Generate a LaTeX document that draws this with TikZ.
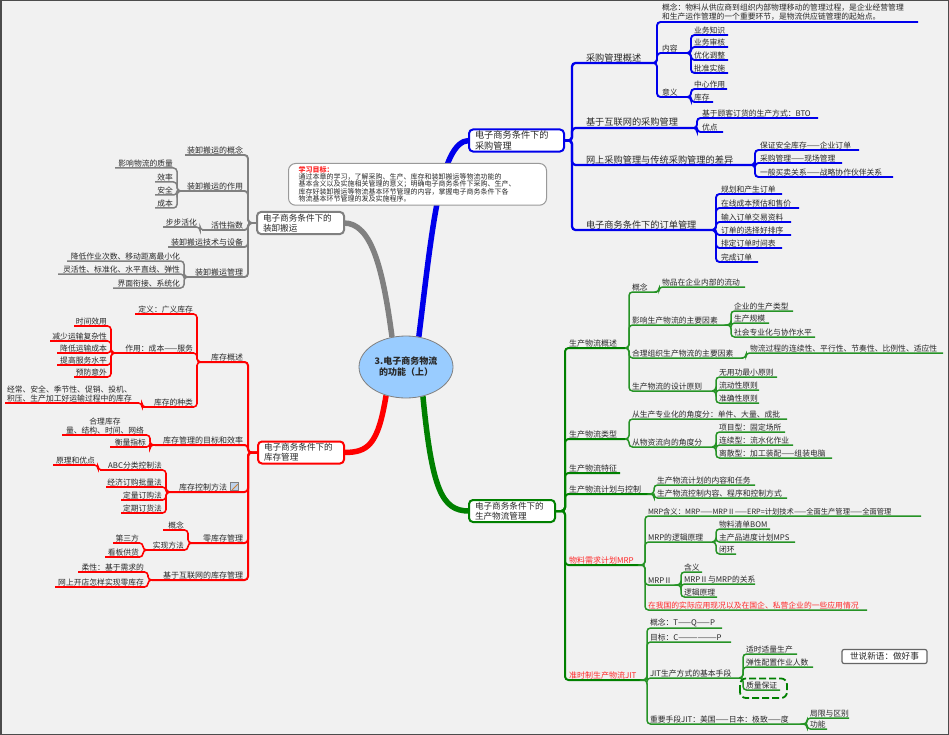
\documentclass[tikz,border=0pt]{standalone}
\usepackage{fontspec}
\setmainfont{Noto Sans CJK SC}
\usetikzlibrary{shapes.geometric}
\pgfdeclarelayer{bg}
\pgfsetlayers{bg,main}
\definecolor{blu}{RGB}{0,0,235}
\definecolor{grn}{RGB}{0,128,0}
\definecolor{rd}{RGB}{255,0,0}
\definecolor{gry}{RGB}{128,128,128}
\definecolor{txt}{RGB}{40,40,40}
\definecolor{bgc}{RGB}{241,241,241}
\definecolor{ell}{RGB}{153,204,255}
\definecolor{rtxt}{RGB}{255,40,40}
\newcommand\Rn[6][]{\node[lf,#1,anchor=south west] (#2) at (#3,#5) {\makebox[\dimexpr #4pt-#3pt-4pt\relax][l]{#6}};}
\newcommand\Ln[6][]{\node[lf,#1,anchor=south east] (#2) at (#4,#5) {\makebox[\dimexpr #4pt-#3pt-4pt\relax][r]{#6}};}
\begin{document}
\begin{tikzpicture}[x=1pt,y=-1pt,
  lf/.style={inner xsep=2pt, inner ysep=1.2pt, outer sep=0pt, text=txt, font=\fontsize{7.8}{9}\selectfont},
  l2/.style={font=\fontsize{8}{9}\selectfont},
  l2b/.style={font=\fontsize{9.2}{10}\selectfont},
  rt/.style={text=rtxt},
  box/.style={fill=white, line width=2pt, rounded corners=4pt, align=left, inner xsep=6pt, inner ysep=1.5pt, outer sep=0pt, minimum height=22pt, text=txt, font=\fontsize{8.6}{10}\selectfont},
  mainbr/.style={line width=5.5pt},
  cb/.style={draw=blu, line width=2.3pt, rounded corners=3.5pt},
  cb3/.style={draw=blu, line width=1.9pt, rounded corners=3.5pt},
  cg/.style={draw=grn, line width=2pt, rounded corners=3.5pt},
  cg3/.style={draw=grn!85!white, line width=1.5pt, rounded corners=3.5pt},
  cr/.style={draw=rd, line width=2pt, rounded corners=3.5pt},
  cr3/.style={draw=rd, line width=1.6pt, rounded corners=3.5pt},
  cy/.style={draw=gry, line width=1.9pt, rounded corners=3.5pt},
  cy3/.style={draw=gry, line width=1.5pt, rounded corners=3.5pt},
  goal/.style={draw=gray!80, fill=white, line width=1pt, rounded corners=7pt, text width=238pt, inner xsep=10pt, inner ysep=3pt, align=left, font=\fontsize{7}{7}\selectfont, text=txt},
  qbox/.style={draw=grn, line width=1.8pt, dash pattern=on 7pt off 3pt, rounded corners=6pt}
]
\useasboundingbox (0,0) rectangle (949,735);

% central and boxes
\node[ellipse, draw=gray, line width=0.8pt, fill=ell, minimum width=94pt, minimum height=62pt, inner sep=0pt, align=center, font=\fontsize{9}{11}\selectfont\bfseries, text=txt] (C) at (406,367) {3.电子商务物流\\的功能（上）};
\node[box, draw=blu, text width=83pt, font=\fontsize{9.2}{10.5}\selectfont] (bB) at (516.5,140.5) {电子商务条件下的\\采购管理};
\node[box, draw=gry, text width=75pt] (gB) at (300.5,223) {电子商务条件下的\\装卸搬运};
\node[box, draw=rd, text width=74pt] (rB) at (301,452.5) {电子商务条件下的\\库存管理};
\node[box, draw=grn, text width=74pt] (gnB) at (512,511) {电子商务条件下的\\生产物流管理};

\begin{pgfonlayer}{bg}
\fill[bgc] (0,0) rectangle (949,735);
\draw[mainbr, blu] (C.67) .. controls (432,230) and (440,141) .. (bB.west);
\draw[mainbr, gry] (C.115) .. controls (383,270) and (372,223) .. (gB.east);
\draw[mainbr, rd] (C.235) .. controls (378,445) and (368,452.5) .. (rB.east);
\draw[mainbr, grn] (C.300) .. controls (432,490) and (442,511) .. (gnB.west);
\end{pgfonlayer}

\node[goal, anchor=north west] (goal) at (288,163) {{\color{rtxt}\bfseries 学习目标：}\\通过本章的学习，了解采购、生产、库存和装卸搬运等物流功能的\\基本含义以及实施相关管理的意义；明确电子商务条件下采购、生产、\\库存好装卸搬运等物流基本环节管理的内容，掌握电子商务条件下各\\物流基本环节管理的发及实施程序。};

\node[draw=gray!80!black, fill=white, line width=1.2pt, rounded corners=2pt, minimum width=85pt, minimum height=14pt, inner sep=1pt, font=\fontsize{8.6}{9}\selectfont, text=txt] (ss) at (884.5,656.5) {世说新语：做好事};

% ---------- blue ----------
\Rn[l2b]{b1}{584}{653}{63}{采购管理概述}
\Rn[l2b]{b2}{584}{693}{128}{基于互联网的采购管理}
\Rn[l2b]{b3}{584}{751}{165}{网上采购管理与传统采购管理的差异}
\Rn[l2b]{b4}{584}{712}{230}{电子商务条件下的订单管理}
\node[lf, anchor=south west, text width=254pt, align=left, font=\fontsize{7.8}{9.5}\selectfont] (b11) at (660,22) {概念：物料从供应商到组织内部物理移动的管理过程，是企业经营管理\\和生产运作管理的一个重要环节，是物流供应链管理的起始点。};
\Rn{b12}{660}{688}{53}{内容}
\Rn{b13}{660}{688}{97}{意义}
\Rn{b121}{692}{728}{35}{业务知识}
\Rn{b122}{692}{728}{47}{业务审核}
\Rn{b123}{692}{728}{60}{优化调整}
\Rn{b124}{692}{728}{73}{批准实施}
\Rn{b131}{692}{727}{89}{中心作用}
\Rn{b132}{692}{713}{102}{库存}
\Rn{b21}{700}{818}{118}{基于顾客订货的生产方式：BTO}
\Rn{b22}{700}{723}{132}{优点}
\Rn{b31}{758}{859}{150}{保证安全库存——企业订单}
\Rn{b32}{758}{842}{163}{采购管理——现场管理}
\Rn{b33}{758}{893}{177}{一般买卖关系——战略协作伙伴关系}
\Rn{b41}{719}{782}{194}{规划和产生订单}
\Rn{b42}{719}{799}{208}{在线成本预估和售价}
\Rn{b43}{719}{791}{222}{输入订单交易资料}
\Rn{b44}{719}{791}{235}{订单的选择好排序}
\Rn{b45}{719}{782}{248}{排定订单时间表}
\Rn{b46}{719}{758}{262}{完成订单}

\foreach \q in {b1,b2,b3,b4} \draw[cb] (bB.east) -- ++(8,0) |- (\q.south east);
\foreach \q in {b11,b12,b13} \draw[cb3] (b1.south east) -- ++(4,0) |- (\q.south east);
\foreach \q in {b121,b122,b123,b124} \draw[cb3] (b12.south east) -- ++(3,0) |- (\q.south east);
\foreach \q in {b131,b132} \draw[cb3] (b13.south east) -- ++(3,0) |- (\q.south east);
\foreach \q in {b21,b22} \draw[cb3] (b2.south east) -- ++(4,0) |- (\q.south east);
\foreach \q in {b31,b32,b33} \draw[cb3] (b3.south east) -- ++(4,0) |- (\q.south east);
\foreach \q in {b41,b42,b43,b44,b45,b46} \draw[cb3] (b4.south east) -- ++(4,0) |- (\q.south east);

% ---------- green ----------
\Rn[l2]{g1}{567}{625}{348}{生产物流概述}
\Rn[l2]{g2}{567}{625}{439}{生产物流类型}
\Rn[l2]{g3}{567}{620}{473}{生产物流特征}
\Rn[l2]{g4}{567}{651}{494}{生产物流计划与控制}
\Rn[l2,rt]{g5}{567}{642}{565}{物料需求计划MRP}
\Rn[l2,rt]{g6}{567}{644}{680}{准时制生产物流JIT}
\Rn{g11}{630}{657}{292}{概念}
\Rn{g111}{660}{745}{287}{物品在企业内部的流动}
\Rn{g12}{630}{728}{325}{影响生产物流的主要因素}
\Rn{g121}{732}{793}{311}{企业的生产类型}
\Rn{g122}{732}{769}{323}{生产规模}
\Rn{g123}{732}{815}{337}{社会专业化与协作水平}
\Rn{g13}{630}{743}{358}{合理组织生产物流的主要因素}
\Rn{g131}{748}{943}{353}{物流过程的连续性、平行性、节奏性、比例性、适应性}
\Rn{g14}{630}{712}{391}{生产物流的设计原则}
\Rn{g141}{717}{777}{377}{无用功最小原则}
\Rn{g142}{717}{759}{390}{流动性原则}
\Rn{g143}{717}{759}{403}{准确性原则}
\Rn{g21}{630}{787}{419}{从生产专业化的角度分：单件、大量、成批}
\Rn{g22}{630}{712}{447}{从物资流向的角度分}
\Rn{g221}{717}{785}{432}{项目型：固定场所}
\Rn{g222}{717}{793}{445}{连续型：流水化作业}
\Rn{g223}{717}{832}{458}{离散型：加工装配——组装电脑}
\Rn{g41}{655}{755}{485}{生产物流计划的内容和任务}
\Rn{g42}{655}{787}{498}{生产物流控制内容、程序和控制方式}
\Rn[font=\fontsize{7.3}{9}\selectfont]{g51}{646}{921}{516}{MRP含义：MRP——MRPⅡ——ERP=计划技术——全面生产管理——全面管理}
\Rn{g52}{646}{712}{542}{MRP的逻辑原理}
\Rn{g521}{717}{770}{529}{物料清单BOM}
\Rn{g522}{717}{795}{542}{主产品进度计划MPS}
\Rn{g523}{717}{736}{554}{闭环}
\Rn{g53}{646}{678}{585}{MRPⅡ}
\Rn{g531}{682}{702}{572}{含义}
\Rn{g532}{682}{755}{584}{MRPⅡ与MRP的关系}
\Rn{g533}{682}{717}{597}{逻辑原理}
\Rn[rt]{g54}{646}{867}{610}{在我国的实际应用现况以及在国企、私营企业的一些应用情况}
\Rn{g61}{648}{722}{628}{概念：T——Q——P}
\Rn{g62}{648}{731}{642}{目标：C——————P}
\Rn{g63}{648}{739}{678}{JIT生产方式的基本手段}
\Rn{g631}{744}{797}{654}{适时适量生产}
\Rn{g632}{744}{813}{667}{弹性配置作业人数}
\Rn{g633}{744}{780}{690}{质量保证}
\Rn{g64}{648}{804}{724}{重要手段JIT：美国——日本：极致——度}
\Rn{g641}{808}{849}{718}{局限与区别}
\Rn{g642}{808}{827}{729}{功能}

\foreach \q in {g1,g2,g3,g4,g5,g6} \draw[cg] (gnB.east) -- ++(10,0) |- (\q.south east);
\foreach \q in {g11,g12,g13,g14} \draw[cg3] (g1.south east) -- ++(4,0) |- (\q.south east);
\draw[cg3] (g11.south east) -- ++(2,0) |- (g111.south east);
\foreach \q in {g121,g122,g123} \draw[cg3] (g12.south east) -- ++(3,0) |- (\q.south east);
\draw[cg3] (g13.south east) -- ++(3,0) |- (g131.south east);
\foreach \q in {g141,g142,g143} \draw[cg3] (g14.south east) -- ++(4,0) |- (\q.south east);
\foreach \q in {g21,g22} \draw[cg3] (g2.south east) -- ++(4,0) |- (\q.south east);
\foreach \q in {g221,g222,g223} \draw[cg3] (g22.south east) -- ++(4,0) |- (\q.south east);
\foreach \q in {g41,g42} \draw[cg3] (g4.south east) -- ++(3,0) |- (\q.south east);
\foreach \q in {g51,g52,g53,g54} \draw[cg3] (g5.south east) -- ++(3,0) |- (\q.south east);
\foreach \q in {g521,g522,g523} \draw[cg3] (g52.south east) -- ++(4,0) |- (\q.south east);
\foreach \q in {g531,g532,g533} \draw[cg3] (g53.south east) -- ++(3,0) |- (\q.south east);
\foreach \q in {g61,g62,g63,g64} \draw[cg3] (g6.south east) -- ++(3,0) |- (\q.south east);
\foreach \q in {g631,g632,g633} \draw[cg3] (g63.south east) -- ++(4,0) |- (\q.south east);
\foreach \q in {g641,g642} \draw[cg3] (g64.south east) -- ++(3,0) |- (\q.south east);
\draw[qbox] ([shift={(-4,8)}]g633.south west) rectangle ([shift={(7,-2)}]g633.north east);

% ---------- gray ----------
\Ln[l2]{y1}{185}{245}{155}{装卸搬运的概念}
\Ln[l2]{y2}{180}{245}{191}{装卸搬运的作用}
\Ln{y21}{115}{175}{168}{影响物流的质量}
\Ln{y22}{155}{175}{182}{效率}
\Ln{y23}{155}{175}{195}{安全}
\Ln{y24}{155}{175}{208}{成本}
\Ln[l2]{y3}{202}{245}{230}{活性指数}
\Ln{y31}{163}{199}{227}{步步活化}
\Ln[l2]{y4}{168}{245}{247}{装卸搬运技术与设备}
\Ln[l2]{y5}{187}{245}{277}{装卸搬运管理}
\Ln{y51}{67}{182}{261}{降低作业次数、移动距离最小化}
\Ln{y52}{58}{182}{274}{灵活性、标准化、水平直线、弹性}
\Ln{y53}{113}{182}{288}{界面衔接、系统化}

\foreach \q in {y1,y2,y3,y4,y5} \draw[cy] (gB.west) -- ++(-9,0) |- (\q.south west);
\foreach \q in {y21,y22,y23,y24} \draw[cy3] (y2.south west) -- ++(-3,0) |- (\q.south west);
\draw[cy3] (y3.south west) -- ++(-2,0) |- (y31.south west);
\foreach \q in {y51,y52,y53} \draw[cy3] (y5.south west) -- ++(-3,0) |- (\q.south west);

% ---------- red ----------
\Ln[l2]{r1}{200}{245}{362}{库存概述}
\Ln{r11}{135}{195}{314}{定义：广义库存}
\Ln{r12}{114}{195}{353}{作用：成本——服务}
\Ln{r121}{74}{109}{326}{时间效用}
\Ln{r122}{50}{109}{341}{减少运输复杂性}
\Ln{r123}{57}{109}{353}{降低运输成本}
\Ln{r124}{57}{109}{365}{提高服务水平}
\Ln{r125}{74}{109}{377}{预防意外}
\Ln{r13}{143}{195}{407}{库存的种类}
\node[lf, anchor=south east, text width=133pt, align=left, font=\fontsize{7.8}{8.5}\selectfont] (r131) at (142,403) {经常、安全、季节性、促销、投机、\\积压、生产加工好运输过程中的库存};
\Ln[l2]{r2}{155}{245}{445}{库存管理的目标和效率}
\node[lf, anchor=south east, text width=82pt, align=center, font=\fontsize{7.8}{8.5}\selectfont] (r21) at (148,435) {合理库存\\量、结构、时间、网络};
\Ln{r22}{110}{148}{447}{衡量指标}
\Ln[l2]{r3}{168}{229}{492}{库存控制方法}
\Ln{r31}{100}{164}{470}{ABC分类控制法}
\Ln{r311}{53}{97}{465}{原理和优点}
\Ln{r32}{106}{164}{487}{经济订购批量法}
\Ln{r33}{121}{164}{500}{定量订购法}
\Ln{r34}{121}{164}{513}{定期订货法}
\Ln[l2]{r4}{191}{245}{543}{零库存管理}
\Ln{r41}{163}{186}{530}{概念}
\Ln{r42}{146}{186}{550}{实现方法}
\Ln{r421}{113}{141}{543}{第三方}
\Ln{r422}{105}{141}{557}{看板供货}
\Ln[l2]{r5}{152}{245}{580}{基于互联网的库存管理}
\Ln{r51}{78}{146}{572}{柔性：基于需求的}
\Ln{r52}{55}{146}{587}{网上开店怎样实现零库存}

\node[draw=gray, fill={rgb,255:red,190;green,210;blue,235}, minimum size=8pt, inner sep=0pt, line width=0.5pt] (r3i) at (234.5,486.5) {};
\draw[brown!80!orange, line width=1pt] ([shift={(2,-1)}]r3i.south west) -- ([shift={(-1,2)}]r3i.north east);

\foreach \q in {r1,r2,r3,r4,r5} \draw[cr] (rB.west) -- ++(-10,0) |- (\q.south west);
\foreach \q in {r11,r12,r13} \draw[cr3] (r1.south west) -- ++(-3,0) |- (\q.south west);
\foreach \q in {r121,r122,r123,r124,r125} \draw[cr3] (r12.south west) -- ++(-3,0) |- (\q.south west);
\draw[cr3] (r13.south west) -- ++(-1,0) |- (r131.south west);
\foreach \q in {r21,r22} \draw[cr3] (r2.south west) -- ++(-5,0) |- (\q.south west);
\foreach \q in {r31,r32,r33,r34} \draw[cr3] (r3.south west) -- ++(-2,0) |- (\q.south west);
\draw[cr3] (r31.south west) -- ++(-2,0) |- (r311.south west);
\foreach \q in {r41,r42} \draw[cr3] (r4.south west) -- ++(-3,0) |- (\q.south west);
\foreach \q in {r421,r422} \draw[cr3] (r42.south west) -- ++(-3,0) |- (\q.south west);
\foreach \q in {r51,r52} \draw[cr3] (r5.south west) -- ++(-4,0) |- (\q.south west);

\draw[line width=1.5pt, gray!60!black] (0.75,0.75) rectangle (948.25,734.25);
\end{tikzpicture}
\end{document}
